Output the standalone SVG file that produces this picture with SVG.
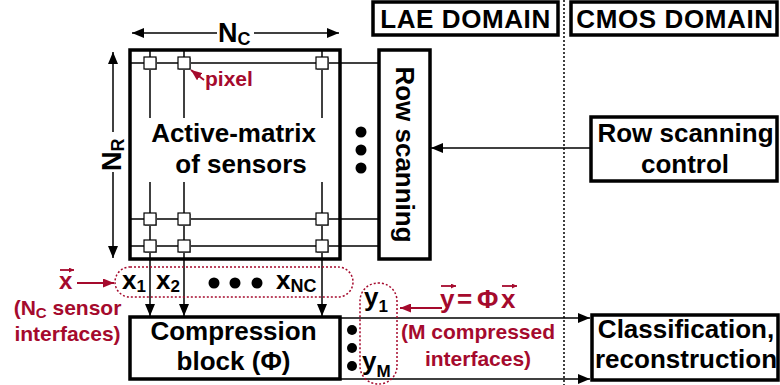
<svg xmlns="http://www.w3.org/2000/svg" width="780" height="385" viewBox="0 0 780 385">
<defs>
<style>
text{font-family:"Liberation Sans",Arial,sans-serif;font-weight:bold;}
.t{font-size:26px;fill:#000;}
.r{fill:#a50a2d;}
.box{fill:#fff;stroke:#000;stroke-width:3.5;}
.ln{stroke:#000;stroke-width:1.5;fill:none;}
.rl{stroke:#a50a2d;stroke-width:1.8;fill:none;}
.px{fill:#fff;stroke:#000;stroke-width:1.2;}
.dot{stroke:#a50a2d;stroke-width:1.5;stroke-dasharray:2 2;fill:none;}
</style>
<marker id="ah" markerUnits="userSpaceOnUse" markerWidth="12" markerHeight="10" refX="12" refY="5" orient="auto"><path d="M0,0 L12,5 L0,10 z" fill="#000"/></marker>
<marker id="ahr" markerUnits="userSpaceOnUse" markerWidth="11" markerHeight="9" refX="11" refY="4.5" orient="auto"><path d="M0,0 L11,4.5 L0,9 z" fill="#a50a2d"/></marker>
<marker id="vr" markerUnits="userSpaceOnUse" markerWidth="5" markerHeight="5" refX="5" refY="2.5" orient="auto"><path d="M0,0 L5,2.5 L0,5 z" fill="#a50a2d"/></marker>
<g id="px"><rect x="-5" y="-5" width="12" height="12" fill="#999"/><rect class="px" x="-6" y="-6" width="12" height="12"/></g>
</defs>
<rect width="780" height="385" fill="#fff"/>

<!-- domain separator -->
<line x1="564" y1="0" x2="564" y2="385" stroke="#000" stroke-width="1.5" stroke-dasharray="2 2"/>

<g id="lae-domain"><rect class="box" x="373" y="2" width="185" height="33"/><text class="t" x="465.5" y="28" text-anchor="middle" font-size="24" letter-spacing="0.6">LAE DOMAIN</text></g>
<g id="cmos-domain"><rect class="box" x="571" y="2" width="206" height="33"/><text class="t" x="675" y="28" text-anchor="middle" font-size="24" letter-spacing="0.6">CMOS DOMAIN</text></g>

<!-- dimension arrows -->
<g id="dim-nc">
<line class="ln" x1="217" y1="33" x2="132" y2="33" marker-end="url(#ah)"/>
<line class="ln" x1="254" y1="33" x2="339" y2="33" marker-end="url(#ah)"/>
<text x="218" y="42" font-size="27">N<tspan font-size="18" dy="3">C</tspan></text>
</g>
<g id="dim-nr">
<line class="ln" x1="113" y1="132" x2="113" y2="52" marker-end="url(#ah)"/>
<line class="ln" x1="113" y1="172" x2="113" y2="258" marker-end="url(#ah)"/>
<text transform="translate(121,171) rotate(-90)" font-size="27">N<tspan font-size="18" dy="3">R</tspan></text>
</g>

<g id="matrix">
<rect class="box" x="130" y="50" width="210" height="209" stroke-width="3"/>
<line class="ln" x1="130" y1="63" x2="379" y2="63"/>
<line class="ln" x1="130" y1="219" x2="379" y2="219"/>
<line class="ln" x1="130" y1="246" x2="379" y2="246"/>
<line class="ln" x1="150" y1="50" x2="150" y2="118"/>
<line class="ln" x1="184" y1="50" x2="184" y2="118"/>
<line class="ln" x1="322" y1="50" x2="322" y2="118"/>
<line class="ln" x1="150" y1="182" x2="150" y2="259"/>
<line class="ln" x1="184" y1="182" x2="184" y2="259"/>
<line class="ln" x1="322" y1="182" x2="322" y2="259"/>
<use href="#px" x="150" y="63"/><use href="#px" x="184" y="63"/><use href="#px" x="322" y="63"/>
<use href="#px" x="150" y="219"/><use href="#px" x="184" y="219"/><use href="#px" x="322" y="219"/>
<use href="#px" x="150" y="246"/><use href="#px" x="184" y="246"/><use href="#px" x="322" y="246"/>
<text class="t" x="233.5" y="142" text-anchor="middle">Active-matrix</text>
<text class="t" x="241" y="173" text-anchor="middle">of sensors</text>
<circle cx="361" cy="132" r="5.5"/><circle cx="361" cy="150" r="5.5"/><circle cx="361" cy="168" r="5.5"/>
</g>

<g id="pixel-label">
<line class="rl" x1="204" y1="80" x2="191" y2="70" marker-end="url(#ahr)"/>
<text class="r" x="205" y="86" font-size="21">pixel</text>
</g>

<g id="row-scanning">
<rect class="box" x="379" y="50" width="51" height="209" stroke-width="3"/>
<text class="t" transform="translate(396,154.5) rotate(90)" text-anchor="middle">Row scanning</text>
</g>

<g id="row-control">
<rect class="box" x="591" y="117" width="186" height="64"/>
<text class="t" x="685.5" y="142" text-anchor="middle">Row scanning</text>
<text class="t" x="685" y="173" text-anchor="middle">control</text>
</g>

<g id="compression">
<rect class="box" x="130" y="317" width="210" height="62"/>
<text class="t" x="233.5" y="340" text-anchor="middle">Compression</text>
<text class="t" x="233.5" y="370" text-anchor="middle">block (Φ)</text>
<circle cx="352" cy="330" r="5"/><circle cx="352" cy="348" r="5"/><circle cx="352" cy="366" r="5"/>
</g>

<g id="classification">
<rect class="box" x="592" y="315" width="186" height="65"/>
<text class="t" x="686" y="338" text-anchor="middle">Classification,</text>
<text class="t" x="686" y="368" text-anchor="middle">reconstruction</text>
</g>

<g id="connectors">
<line class="ln" x1="150" y1="259" x2="150" y2="316" marker-end="url(#ah)"/>
<line class="ln" x1="184" y1="259" x2="184" y2="316" marker-end="url(#ah)"/>
<line class="ln" x1="322" y1="259" x2="322" y2="316" marker-end="url(#ah)"/>
<line class="ln" x1="591" y1="148" x2="431" y2="148" marker-end="url(#ah)"/>
<line class="ln" x1="340" y1="318" x2="590" y2="318" marker-end="url(#ah)"/>
<line class="ln" x1="340" y1="379" x2="590" y2="379" marker-end="url(#ah)"/>
</g>

<g id="x-signals">
<rect class="dot" x="115" y="267" width="238" height="30" rx="15"/>
<text class="t" x="122" y="289" font-size="27">x<tspan font-size="17" dy="3">1</tspan></text>
<text class="t" x="156" y="289" font-size="27">x<tspan font-size="17" dy="3">2</tspan></text>
<circle cx="214" cy="283" r="5.5"/><circle cx="235" cy="283" r="5.5"/><circle cx="257" cy="283" r="5.5"/>
<text class="t" x="276" y="289" font-size="27">x<tspan font-size="18" dy="3">NC</tspan></text>
</g>

<g id="x-label">
<text class="r" x="59" y="289" font-size="24">x</text>
<line class="rl" x1="60" y1="270" x2="74" y2="270" stroke-width="1.5" marker-end="url(#vr)"/>
<line class="rl" x1="77" y1="283" x2="114" y2="283" marker-end="url(#ahr)"/>
<text class="r" x="67.5" y="315" font-size="21" text-anchor="middle">(N<tspan font-size="15" dy="3">C</tspan><tspan dy="-3"> sensor</tspan></text>
<text class="r" x="67.5" y="341" font-size="21" text-anchor="middle">interfaces)</text>
</g>

<g id="y-signals">
<rect class="dot" x="360" y="283" width="37" height="101" rx="18"/>
<text class="t" x="364" y="306" font-size="27">y<tspan font-size="17" dy="6">1</tspan></text>
<text class="t" x="362" y="370" font-size="27">y<tspan font-size="17" dy="7">M</tspan></text>
</g>

<g id="y-label">
<line class="rl" x1="442" y1="308" x2="400" y2="308" marker-end="url(#ahr)"/>
<text class="r" font-size="26" y="308"><tspan x="440">y</tspan><tspan x="457">=</tspan><tspan x="477">Φ</tspan><tspan x="501">x</tspan></text>
<line class="rl" x1="441" y1="286" x2="456" y2="286" stroke-width="1.5" marker-end="url(#vr)"/>
<line class="rl" x1="502" y1="286" x2="517" y2="286" stroke-width="1.5" marker-end="url(#vr)"/>
<text class="r" x="478" y="339" font-size="21" text-anchor="middle">(M compressed</text>
<text class="r" x="478" y="366" font-size="21" text-anchor="middle">interfaces)</text>
</g>
</svg>
